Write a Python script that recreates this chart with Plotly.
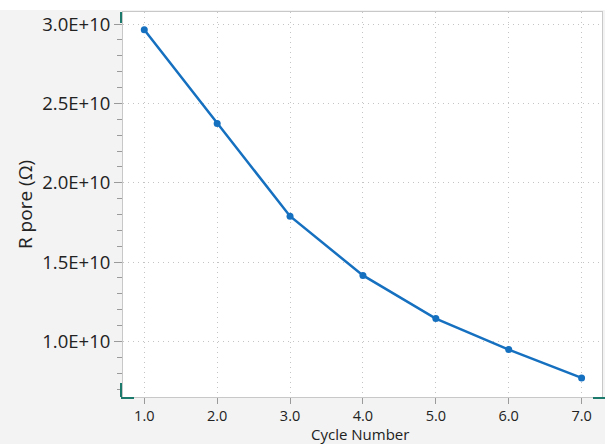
import plotly.graph_objects as go

cycles = [1, 2, 3, 4, 5, 6, 7]
r_pore = [2.964e10, 2.374e10, 1.789e10, 1.416e10, 1.144e10, 0.949e10, 0.770e10]
y_tickvals = [1.0e10, 1.5e10, 2.0e10, 2.5e10, 3.0e10]
y_ticktext = [f"{v:.1E}" for v in y_tickvals]
x_tickvals = [1, 2, 3, 4, 5, 6, 7]
x_title = "Cycle Number"
y_title = "R pore (Ω)"

W, H = 605, 444
L, R, T, B = 123, 3, 12, 47
pw, ph = W - L - R, H - T - B

FONT = "Open Sans, Noto Sans, DejaVu Sans, sans-serif"
GRID = "#c4c4c4"
AX = "#c8c8c8"
TEAL = "#1b7a6b"

fig = go.Figure()
fig.add_trace(go.Scatter(
    x=cycles, y=r_pore, mode="lines+markers",
    line=dict(color="#1670c0", width=2.5),
    marker=dict(color="#1670c0", size=7),
    showlegend=False,
))

def px_x(p):
    return p / pw

def px_y(p):
    return p / ph

shapes = [
    dict(type="rect", xref="paper", yref="paper", x0=px_x(-L), x1=px_x(pw + R),
         y0=1 + px_y(2), y1=1 + px_y(T + 2), fillcolor="white", line=dict(width=0), layer="below"),
    dict(type="line", xref="paper", yref="paper", x0=px_x(-2), x1=px_x(-2),
         y0=1 - px_y(11), y1=1 + px_y(0), line=dict(color=TEAL, width=2)),
    dict(type="line", xref="paper", yref="paper", x0=px_x(-2), x1=px_x(-2),
         y0=0, y1=px_y(14), line=dict(color=TEAL, width=2)),
    dict(type="line", xref="paper", yref="paper", x0=px_x(-2), x1=px_x(11),
         y0=px_y(-1), y1=px_y(-1), line=dict(color=TEAL, width=2)),
    dict(type="line", xref="paper", yref="paper", x0=px_x(pw - 9), x1=px_x(pw + 3),
         y0=px_y(-1), y1=px_y(-1), line=dict(color=TEAL, width=2)),
]

fig.update_layout(
    width=W, height=H,
    margin=dict(l=L, r=R, t=T, b=B),
    paper_bgcolor="#f3f3f3",
    plot_bgcolor="white",
    font=dict(family=FONT, size=15, color="#222222"),
    shapes=shapes,
    annotations=[dict(
        text=x_title, xref="paper", yref="paper",
        x=px_x(360 - L), y=-px_y(445.5 - (H - B)),
        xanchor="center", yanchor="bottom", showarrow=False, borderpad=0,
        font=dict(size=15, family=FONT, color="#222222"),
    )],
)

fig.update_xaxes(
    range=[0.708, 7.28],
    tickmode="array", tickvals=x_tickvals, tickformat=".1f",
    ticks="outside", ticklen=6, tickcolor="#9a9a9a", tickwidth=1,
    showgrid=True, gridcolor=GRID, griddash="1px,4px", gridwidth=1,
    showline=True, linecolor=AX, linewidth=1, mirror=True,
    zeroline=False, automargin=False,
    tickfont=dict(size=14.5, family=FONT, color="#222222"),
)

fig.update_yaxes(
    range=[0.650e10, 3.076e10],
    tickmode="array", tickvals=y_tickvals, ticktext=y_ticktext,
    ticks="outside", ticklen=8, tickcolor="#9a9a9a", tickwidth=1,
    minor=dict(tickmode="linear", tick0=0, dtick=1e9, ticks="outside", ticklen=5,
               tickcolor="#9a9a9a", showgrid=False),
    showgrid=True, gridcolor=GRID, griddash="1px,4px", gridwidth=1,
    showline=True, linecolor=AX, linewidth=1, mirror=True,
    zeroline=False, automargin=False,
    tickfont=dict(size=18.5, family=FONT, color="#222222"),
    title=dict(text=y_title, font=dict(size=19, family=FONT, color="#222222"), standoff=4),
)

fig.write_html("out.html")
